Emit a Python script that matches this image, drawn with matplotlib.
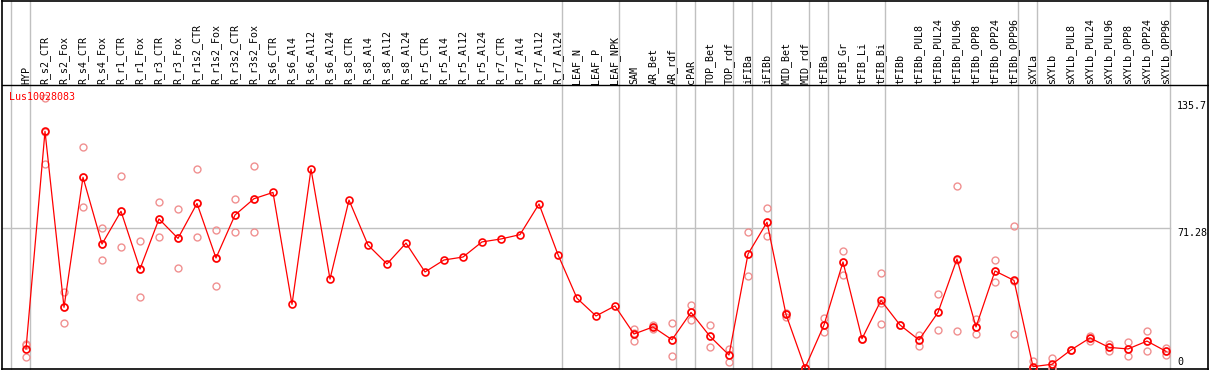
import numpy as np
import matplotlib.pyplot as plt

gene = "Lus10028083"

samples = ["HYP",
           "R_s2_CTR", "R_s2_Fox", "R_s4_CTR", "R_s4_Fox", "R_r1_CTR", "R_r1_Fox",
           "R_r3_CTR", "R_r3_Fox", "R_r1s2_CTR", "R_r1s2_Fox", "R_r3s2_CTR", "R_r3s2_Fox",
           "R_s6_CTR", "R_s6_Al4", "R_s6_Al12", "R_s6_Al24",
           "R_s8_CTR", "R_s8_Al4", "R_s8_Al12", "R_s8_Al24",
           "R_r5_CTR", "R_r5_Al4", "R_r5_Al12", "R_r5_Al24",
           "R_r7_CTR", "R_r7_Al4", "R_r7_Al12", "R_r7_Al24",
           "LEAF_N", "LEAF_P", "LEAF_NPK", "SAM", "AR_Bet", "AR_rdf",
           "cPAR", "TOP_Bet", "TOP_rdf", "iFIBa", "iFIBb", "MID_Bet", "MID_rdf",
           "tFIBa", "tFIB_Gr", "tFIB_Li", "tFIB_Bi",
           "tFIBb", "tFIBb_PUL8", "tFIBb_PUL24", "tFIBb_PUL96",
           "tFIBb_OPP8", "tFIBb_OPP24", "tFIBb_OPP96",
           "sXYLa", "sXYLb", "sXYLb_PUL8", "sXYLb_PUL24", "sXYLb_PUL96",
           "sXYLb_OPP8", "sXYLb_OPP24", "sXYLb_OPP96"]

means = [9.7,
         120.5, 30.9, 97.1, 63.1, 79.8, 50.4, 75.9, 66.0, 83.8, 56.0, 77.9, 86.2,
         89.4, 32.4, 101.3, 45.3, 85.5, 62.6, 53.0, 63.6,
         48.9, 55.0, 56.5, 64.2, 65.7, 67.9, 83.5, 57.7,
         35.5, 26.5, 31.6, 17.3, 20.9, 14.4,
         28.3, 16.1, 6.6, 58.0, 74.2, 27.3, 0.0,
         21.9, 54.0, 14.9, 34.4,
         21.9, 14.3, 28.3, 55.5, 20.9, 49.4, 44.6,
         0.7, 1.9, 9.2, 15.3, 10.5, 9.7, 13.7, 8.5]

# replicate values (empty where none shown)
reps = [[12.0, 11.7, 5.4],
        [137.3, 103.9, 120.3], [38.9, 22.9, 31.0], [112.4, 81.8, 97.1], [71.3, 54.8, 63.1],
        [97.6, 61.6, 79.8], [64.5, 36.0, 50.4], [84.4, 66.5, 75.9], [81.0, 50.8, 66.0],
        [101.1, 66.7, 83.8], [70.3, 41.8, 56.0], [85.9, 69.2, 77.9], [102.7, 69.2, 86.2],
        [], [], [], [], [], [], [], [], [], [], [], [], [], [], [], [],
        [], [], [],
        [19.9, 13.9, 18.0], [22.1, 19.7, 21.0], [22.9, 6.1, 14.2],
        [32.1, 24.6, 28.3], [21.7, 10.7, 16.1], [9.7, 3.2, 6.6],
        [69.1, 46.8, 58.0], [81.5, 67.2, 74.2], [28.0, 26.0, 27.3], [0.0, 0.0, 0.0],
        [25.5, 18.2, 21.9], [59.6, 47.2, 54.0], [14.9, 14.9, 14.9], [48.4, 32.9, 22.2],
        [21.9, 21.9, 21.9], [16.8, 11.2, 14.3], [37.5, 19.3, 28.3], [92.5, 18.8, 55.2],
        [24.8, 17.2, 20.9], [54.8, 43.6, 49.4], [72.3, 17.2, 44.3],
        [3.7, 0.0, 0.0], [5.1, 0.0, 0.0], [9.2, 9.2, 9.2], [16.3, 13.6, 15.3],
        [12.2, 8.8, 10.5], [13.1, 6.0, 9.7], [18.8, 8.5, 13.7], [10.3, 6.8, 8.5]]

# group separators after these sample indices
separators = [-1, 0, 28, 31, 34, 35, 37, 38, 39, 41, 42, 45, 52, 53, 60]

ytick_vals = [135.7, 71.28, 0]
ytick_labels = ["135.7", "71.28", "0"]

W, H = 1209, 370
fig = plt.figure(figsize=(W / 100, H / 100), dpi=100)
ax = fig.add_axes([0, 0, 1, 1])

# pixel <-> data mapping
x0, dx = 26.0, 19.0
y0, dy = 368.0, 1.964
def px(v):
    return (v - x0) / dx
def py(v):
    return (y0 - v) / dy

ax.set_xlim(px(0), px(W))
ax.set_ylim(py(H), py(0))
ax.axis('off')

mono = 'DejaVu Sans Mono'
fs = 7.2

# frame
ax.plot([px(2), px(1207.5)], [py(0.5), py(0.5)], color='black', lw=1.2)
ax.plot([px(2), px(1207.5)], [py(369), py(369)], color='black', lw=1.2)
ax.plot([px(2), px(1207.5)], [py(85), py(85)], color='black', lw=1)
ax.plot([px(2), px(2)], [py(0), py(H)], color='black', lw=1.2)
ax.plot([px(1207.5), px(1207.5)], [py(0), py(H)], color='black', lw=1.2)

for s in separators:
    ax.plot([s + 0.21, s + 0.21], [py(0.5), py(369)], color='#c0c0c0', lw=1, zorder=1)
ax.plot([px(2), px(1170)], [ytick_vals[1], ytick_vals[1]], color='#c0c0c0', lw=1, zorder=1)

# labels
for i, name in enumerate(samples):
    ax.text(i, py(84), name, rotation=90, ha='center', va='bottom',
            family=mono, fontsize=fs, color='black')

ax.text(px(9), py(97), gene, ha='left', va='center', family=mono,
        fontsize=fs, color='red')

ax.text(px(1177), ytick_vals[0], ytick_labels[0], ha='left', va='top', family=mono, fontsize=fs)
ax.text(px(1177), ytick_vals[1], ytick_labels[1], ha='left', va='top', family=mono, fontsize=fs)
ax.text(px(1177), py(362), ytick_labels[2], ha='left', va='center', family=mono, fontsize=fs)

# replicates
for i, r in enumerate(reps):
    if r:
        ax.plot([i] * len(r), r, linestyle='none', marker='o', markersize=5,
                markerfacecolor='none', markeredgecolor='#f09090', markeredgewidth=1,
                zorder=2)

x = np.arange(len(samples))
ax.plot(x, means, color='red', lw=0.9, marker='o', markersize=5,
        markerfacecolor='none', markeredgecolor='red', markeredgewidth=1.2, zorder=3)

fig.savefig('out.png', dpi=100)
